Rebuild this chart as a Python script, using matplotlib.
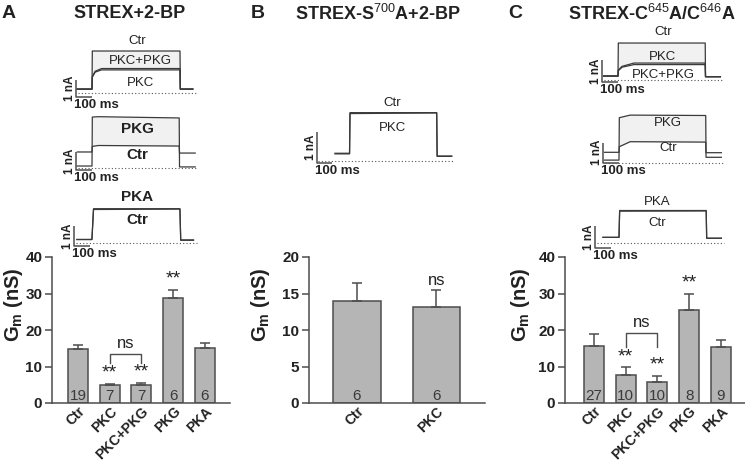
import numpy as np
import matplotlib
matplotlib.use('Agg')
import matplotlib.pyplot as plt

plt.rcParams['font.family'] = ['Liberation Sans', 'DejaVu Sans']
plt.rcParams['mathtext.fontset'] = 'custom'
plt.rcParams['mathtext.rm'] = 'Liberation Sans'
plt.rcParams['mathtext.bf'] = 'Liberation Sans:bold'
plt.rcParams['mathtext.it'] = 'Liberation Sans:italic'

W, H = 745, 463

# ---- bar data (Gm, nS) ----
a_groups = ['Ctr', 'PKC', 'PKC+PKG', 'PKG', 'PKA']
a_gm = [14.8, 4.8, 4.9, 28.9, 15.2]
a_sem = [1.1, 0.5, 0.7, 2.1, 1.2]
a_n = [19, 7, 7, 6, 6]
a_marks = ['', '**', '**', '**', '']

b_groups = ['Ctr', 'PKC']
b_gm = [14.0, 13.1]
b_sem = [2.5, 2.4]
b_n = [6, 6]
b_marks = ['', 'ns']

c_groups = ['Ctr', 'PKC', 'PKC+PKG', 'PKG', 'PKA']
c_gm = [15.6, 7.7, 5.8, 25.5, 15.4]
c_sem = [3.2, 2.1, 1.7, 4.5, 1.9]
c_n = [27, 10, 10, 8, 9]
c_marks = ['', '**', '**', '**', '']

# ---- example current traces (ms, nA) ----
a1_t = [8, 100, 102, 120, 160, 650, 652, 730]
a1_ctr = [0.2, 0.2, 2.44, 2.44, 2.44, 2.44, 0.2, 0.2]
a1_pkc = [0.2, 0.2, 0.9, 1.2, 1.33, 1.33, 0.2, 0.2]
a1_pkcpkg = [0.2, 0.2, 0.95, 1.25, 1.41, 1.41, 0.2, 0.2]

a2_t = [8, 100, 102, 140, 645, 647, 745]
a2_pkg = [0.11, 0.11, 2.83, 2.85, 2.78, 0.06, 0.06]
a2_ctr = [0.89, 0.89, 1.20, 1.25, 1.22, 0.83, 0.83]

a3_t = [18, 112, 122, 662, 667, 747]
a3_pka = [0.16, 0.16, 1.70, 1.70, 0.14, 0.14]
a3_ctr = [0.16, 0.16, 1.66, 1.68, 0.12, 0.12]

b1_t = [122, 219, 222, 800, 803, 900]
b1_ctr = [0.24, 0.24, 1.55, 1.55, 0.15, 0.15]
b1_pkc = [0.22, 0.22, 1.52, 1.54, 0.14, 0.14]

c1_t = [10, 100, 102, 125, 200, 645, 647, 740]
c1_ctr = [0.18, 0.18, 1.68, 1.68, 1.68, 1.68, 0.15, 0.15]
c1_pkc = [0.18, 0.18, 0.45, 0.62, 0.77, 0.77, 0.15, 0.15]
c1_pkcpkg = [0.18, 0.18, 0.42, 0.58, 0.70, 0.70, 0.15, 0.15]

c2_t = [10, 100, 102, 170, 642, 644, 740]
c2_pkg = [0.13, 0.13, 2.25, 2.38, 2.36, 0.27, 0.27]
c2_ctr = [0.52, 0.52, 0.80, 1.05, 1.03, 0.50, 0.50]

c3_t = [50, 150, 154, 695, 698, 790]
c3_pka = [0.27, 0.27, 1.49, 1.49, 0.23, 0.23]
c3_ctr = [0.27, 0.27, 1.46, 1.47, 0.23, 0.23]

TXT = '#222222'
LINE = '#4d4d4d'
TRACE = '#3a3a3a'
SHADE = '#f1f1f1'

fig = plt.figure(figsize=(W / 100, H / 100), dpi=100)


def ftext(x, y, s, **kw):
    kw.setdefault('color', TXT)
    return fig.text(x / W, 1 - y / H, s, **kw)


def inset(x0, y0, sx, sy, t_end, bar_bottom):
    # x0, y0: pixel of the scale bar (t=0) and of zero current
    t0, t1, i0, i1 = -60, t_end + 40, -1.0, 3.3
    ax = fig.add_axes([(x0 + t0 * sx) / W, (H - (y0 - i0 * sy)) / H,
                       (t1 - t0) * sx / W, (i1 - i0) * sy / H])
    ax.set_xlim(t0, t1)
    ax.set_ylim(i0, i1)
    ax.axis('off')
    ax.patch.set_alpha(0)
    ax.plot([0, 0, 100], [bar_bottom + 1, bar_bottom, bar_bottom],
            color=LINE, lw=1.1, solid_capstyle='butt')
    ax.axhline(0, xmin=(10 - t0) / (t1 - t0), xmax=(t_end + 10 - t0) / (t1 - t0),
               color='#555555', lw=0.8, ls=(0, (1, 2)))
    bx = x0
    by = y0 - bar_bottom * sy
    ftext(bx - 6, by - sy / 2, '1 nA', rotation=90, ha='center', va='center',
          fontsize=8.5, fontweight='bold')
    ftext(bx - 2, by + 2, '100 ms', ha='left', va='top', fontsize=9.5, fontweight='bold')
    return ax


def traces(ax, t, upper, lowers, shade=True):
    t = np.array(t)
    if shade:
        ax.fill_between(t, lowers[0], upper, where=np.array(upper) > np.array(lowers[0]),
                        color=SHADE, lw=0, interpolate=True)
    ax.plot(t, upper, color=TRACE, lw=0.9)
    for lo in lowers:
        ax.plot(t, lo, color=TRACE, lw=0.9)


# ---- inset traces ----
ax = inset(76, 92.5, 0.16, 17, 745, -0.26)
traces(ax, a1_t, a1_ctr, [a1_pkc, a1_pkcpkg])
ftext(137, 41, 'Ctr', ha='center', va='center', fontsize=9.5)
ftext(140, 61, 'PKC+PKG', ha='center', va='center', fontsize=9.5)
ftext(140, 83, 'PKC', ha='center', va='center', fontsize=9.5)

ax = inset(76, 168, 0.16, 18, 745, -0.1)
traces(ax, a2_t, a2_pkg, [a2_ctr])
ftext(137, 129, 'PKG', ha='center', va='center', fontsize=11, fontweight='bold')
ftext(137, 155, 'Ctr', ha='center', va='center', fontsize=11, fontweight='bold')

ax = inset(74, 242.7, 0.16, 20, 760, -0.17)
traces(ax, a3_t, a3_pka, [a3_ctr], shade=False)
ftext(137, 197, 'PKA', ha='center', va='center', fontsize=11, fontweight='bold')
ftext(137, 220, 'Ctr', ha='center', va='center', fontsize=11, fontweight='bold')

ax = inset(316.7, 160.7, 0.15, 31, 900, -0.065)
traces(ax, b1_t, b1_ctr, [b1_pkc], shade=False)
ftext(392, 103, 'Ctr', ha='center', va='center', fontsize=9.5)
ftext(392, 128, 'PKC', ha='center', va='center', fontsize=9.5)

ax = inset(602, 80, 0.16, 22, 745, -0.09)
traces(ax, c1_t, c1_ctr, [c1_pkc, c1_pkcpkg])
ftext(663, 32, 'Ctr', ha='center', va='center', fontsize=9.5)
ftext(663, 57, 'PKC', ha='center', va='center', fontsize=9.5)
ftext(663, 75, 'PKC+PKG', ha='center', va='center', fontsize=9.5)

ax = inset(603, 162.7, 0.16, 20, 745, 0.0)
traces(ax, c2_t, c2_pkg, [c2_ctr])
ftext(668, 123, 'PKG', ha='center', va='center', fontsize=9.5)
ftext(668, 148, 'Ctr', ha='center', va='center', fontsize=9.5)

ax = inset(595, 243.3, 0.16, 22, 795, -0.21)
traces(ax, c3_t, c3_pka, [c3_ctr], shade=False)
ftext(657, 202, 'PKA', ha='center', va='center', fontsize=9.5)
ftext(657, 223, 'Ctr', ha='center', va='center', fontsize=9.5)


# ---- bar charts ----
def bar_panel(left, right, ymax, step, groups, gm, sem, n, marks, xlim, width, n_y):
    ax = fig.add_axes([left / W, (H - 403) / H, (right - left) / W, 146 / H])
    x = np.arange(len(groups))
    ax.bar(x, gm, width=width, color='#b5b5b5', edgecolor=LINE, lw=1.1,
           yerr=[np.zeros(len(gm)), sem],
           error_kw=dict(ecolor=LINE, elinewidth=1.1, capsize=3.5, capthick=1.1), zorder=2)
    for xi, v, e, k, m in zip(x, gm, sem, n, marks):
        ax.text(xi, n_y, str(k), ha='center', va='baseline', fontsize=11, color='#3a3a3a')
        if m:
            ax.text(xi, v + e + ymax * 0.015, m, ha='center', va='bottom',
                    fontsize=14 if m == '**' else 12, color=TXT)
    ax.set_xlim(*xlim)
    ax.set_ylim(0, ymax)
    ax.set_yticks(np.arange(0, ymax + 0.1, step))
    ax.set_xticks(x)
    ax.set_xticklabels(groups, rotation=45, ha='right', va='top', rotation_mode='anchor',
                       fontsize=10, fontweight='bold', color=TXT)
    for lab in ax.get_yticklabels():
        lab.set_fontweight('bold')
        lab.set_fontsize(11)
        lab.set_color(TXT)
    for s in ['top', 'right']:
        ax.spines[s].set_visible(False)
    for s in ['left', 'bottom']:
        ax.spines[s].set_color(LINE)
        ax.spines[s].set_linewidth(1.1)
    ax.tick_params(axis='y', direction='out', length=5, width=1.1, color=LINE, pad=2)
    ax.tick_params(axis='x', length=0, pad=1)
    return ax


ax_a = bar_panel(52, 230, 40, 10, a_groups, a_gm, a_sem, a_n, a_marks, (-0.82, 4.79), 0.63, 0.8)
ax_a.plot([1, 1, 2, 2], [11.0, 13.4, 13.4, 11.0], color=LINE, lw=1.0)
ax_a.text(1.5, 14.3, 'ns', ha='center', va='bottom', fontsize=12, color=TXT)

ax_b = bar_panel(309, 485, 20, 5, b_groups, b_gm, b_sem, b_n, b_marks, (-0.60, 1.61), 0.6, 0.4)

ax_c = bar_panel(565, 745, 40, 10, c_groups, c_gm, c_sem, c_n, c_marks, (-0.91, 4.76), 0.63, 0.8)
ax_c.plot([1, 1, 2, 2], [15.3, 19.1, 19.1, 15.3], color=LINE, lw=1.0)
ax_c.text(1.5, 20.0, 'ns', ha='center', va='bottom', fontsize=12, color=TXT)

ylab = r'$\mathbf{G_m}$ (nS)'
for xp in (14, 261, 520):
    ftext(xp, 305, ylab, rotation=90, ha='center', va='center', fontsize=14.5, fontweight='bold')

# ---- titles and panel letters ----
ftext(130, 14, 'STREX+2-BP', ha='center', va='center', fontsize=13, fontweight='bold')
ftext(378, 14, r'STREX-S$^{700}$A+2-BP', ha='center', va='center', fontsize=13, fontweight='bold')
ftext(652, 14, r'STREX-C$^{645}$A/C$^{646}$A', ha='center', va='center', fontsize=13, fontweight='bold')
ftext(2, 13, 'A', ha='left', va='center', fontsize=14, fontweight='bold')
ftext(251, 13, 'B', ha='left', va='center', fontsize=14, fontweight='bold')
ftext(508, 13, 'C', ha='left', va='center', fontsize=14, fontweight='bold')

fig.savefig('out.png', dpi=100)
